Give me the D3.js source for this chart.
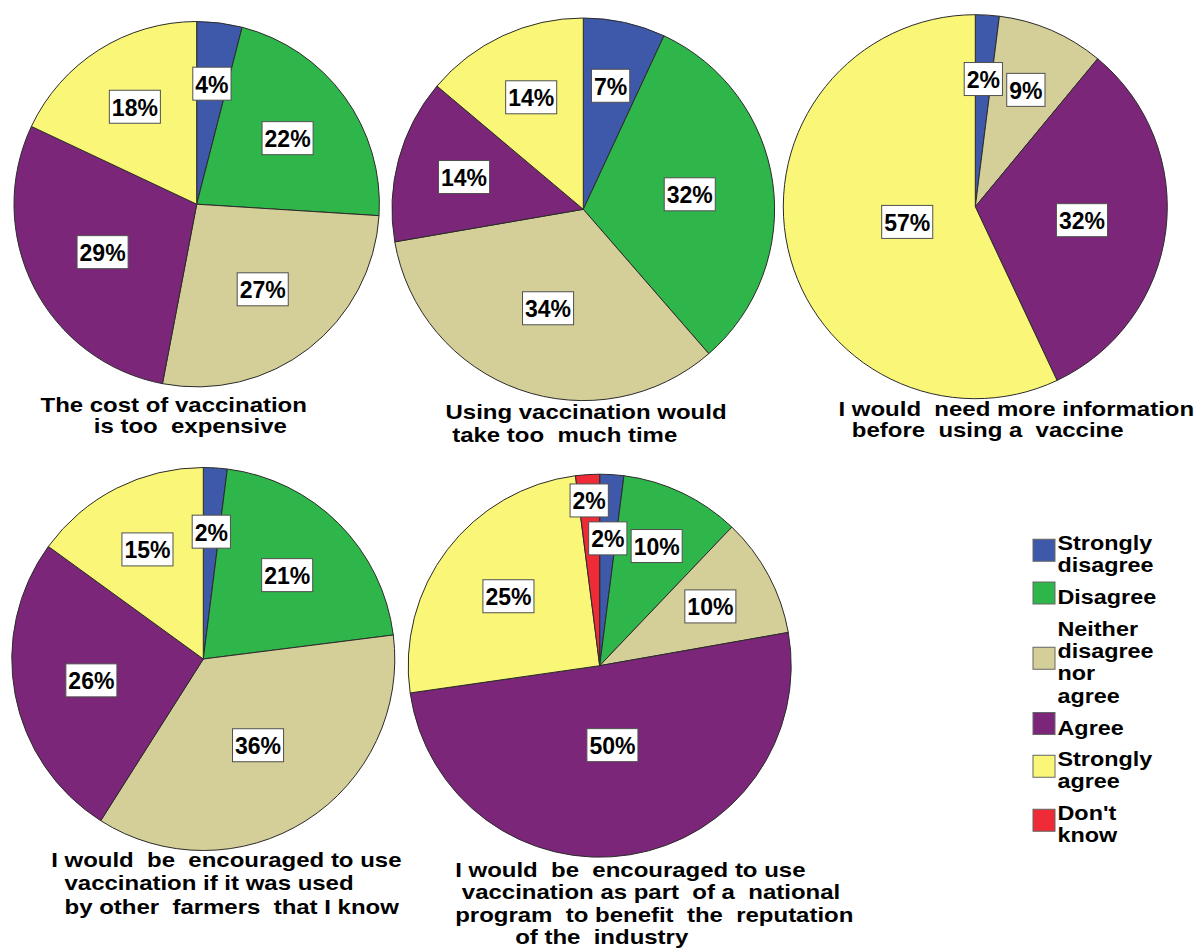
<!DOCTYPE html>
<html>
<head>
<meta charset="utf-8">
<script src="https://cdn.jsdelivr.net/npm/d3@7"></script>
<style>
  html, body { margin: 0; padding: 0; background: #ffffff; }
  svg { display: block; }
  text { font-family: "Liberation Sans", Arial, Helvetica, sans-serif; font-weight: bold; fill: #000; }
</style>
</head>
<body>
<svg id="chart" width="1204" height="948"></svg>
<script>
// Response categories (slice order, clockwise from 12 o'clock)
const categories = ["Strongly disagree", "Disagree", "Neither disagree nor agree", "Agree", "Strongly agree", "Don't know"];
const categoryColors = ["#3e58aa", "#2fb64a", "#d4ce98", "#7c267a", "#faf778", "#ee2b36"];
const legendLines = [["Strongly", "disagree"], ["Disagree"], ["Neither", "disagree", "nor", "agree"], ["Agree"], ["Strongly", "agree"], ["Don't", "know"]];

// Percentages per statement, in category order
const costValues     = [4, 22, 27, 29, 18, 0];
const timeValues     = [7, 32, 34, 14, 14, 0];
const infoValues     = [2, 0, 9, 32, 57, 0];
const farmersValues  = [2, 21, 36, 26, 15, 0];
const nationalValues = [2, 10, 10, 50, 25, 2];

// Statement titles (one string per printed line)
const costTitle     = ["The cost of vaccination", "        is too  expensive"];
const timeTitle     = ["Using vaccination would", " take too  much time"];
const infoTitle     = ["I would  need more information", "  before  using a  vaccine"];
const farmersTitle  = ["I would  be  encouraged to use", "  vaccination if it was used", "  by other  farmers  that I know"];
const nationalTitle = ["I would  be  encouraged to use", " vaccination as part  of a  national", "program  to benefit  the  reputation", "         of the  industry"];

// Panel layout: pie centre, radius, title anchor and line spacing
const panels = [
  { values: costValues,     title: costTitle,     cx: 196.7, cy: 204.2, r: 182.7, tx: 40.5,  ty: 411.7, lh: 21.7 },
  { values: timeValues,     title: timeTitle,     cx: 583.3, cy: 209.3, r: 191.3, tx: 445.5, ty: 419,   lh: 22.7 },
  { values: infoValues,     title: infoTitle,     cx: 975.3, cy: 206.7, r: 192,   tx: 838.5, ty: 416,   lh: 20.7 },
  { values: farmersValues,  title: farmersTitle,  cx: 203.3, cy: 659,   r: 191.5, tx: 51.2,  ty: 866.7, lh: 23.7 },
  { values: nationalValues, title: nationalTitle, cx: 599.7, cy: 665.7, r: 191.5, tx: 455.2, ty: 876.7, lh: 22.6 }
];

// Wide bold lettering used for titles and legend
const titleSize = 20.5, titleStretch = 1.17;
const legendSize = 20.5, legendStretch = 1.14;

const svg = d3.select("#chart");
const color = d3.scaleOrdinal().domain(categories).range(categoryColors);
const pie = d3.pie().sort(null).value(d => d.value);

panels.forEach(p => {
  const data = categories.map((c, i) => ({ category: c, value: p.values[i], index: i }))
    .filter(d => d.value > 0);
  const arcs = pie(data);
  const arc = d3.arc().innerRadius(0).outerRadius(p.r);
  const g = svg.append("g").attr("transform", `translate(${p.cx},${p.cy})`);

  g.selectAll("path.slice").data(arcs).join("path")
    .attr("class", "slice")
    .attr("d", arc)
    .attr("fill", d => color(d.data.category))
    .attr("stroke", "#2b2b2b")
    .attr("stroke-width", 1)
    .attr("stroke-linejoin", "round");

  // Label anchors at each sector's centroid
  const boxes = arcs.map(a => {
    const theta = a.endAngle - a.startAngle;
    const mid = (a.startAngle + a.endAngle) / 2;
    const dist = (2 * p.r * Math.sin(theta / 2)) / (1.5 * theta);
    return { a, mid, dist, label: a.data.value + "%" };
  });

  const lg = g.append("g");
  boxes.forEach(b => {
    b.group = lg.append("g");
    b.rect = b.group.append("rect").attr("fill", "#ffffff").attr("stroke", "#505050").attr("stroke-width", 1);
    b.text = b.group.append("text")
      .attr("text-anchor", "middle")
      .attr("dominant-baseline", "central")
      .attr("y", 1)
      .style("font-size", "23px")
      .text(b.label);
    b.w = b.text.node().getComputedTextLength() + 5;
    b.h = 33;
  });

  // Push a label outward along its radius while it overlaps an earlier one
  const margin = 4;
  const placed = [];
  boxes.forEach(b => {
    const pos = () => [Math.sin(b.mid) * b.dist, -Math.cos(b.mid) * b.dist];
    const hits = () => {
      const [x, y] = pos();
      return placed.some(o => {
        const [ox, oy] = [Math.sin(o.mid) * o.dist, -Math.cos(o.mid) * o.dist];
        return Math.abs(x - ox) < (b.w + o.w) / 2 + margin && Math.abs(y - oy) < (b.h + o.h) / 2 + margin;
      });
    };
    let guard = 0;
    while (hits() && guard++ < 200) b.dist += 1;
    placed.push(b);
    const [x, y] = pos();
    b.group.attr("transform", `translate(${x},${y})`);
    b.rect.attr("x", -b.w / 2).attr("y", -b.h / 2).attr("width", b.w).attr("height", b.h);
  });

  // Statement title under the pie
  const t = svg.append("text")
    .attr("transform", `translate(${p.tx},${p.ty}) scale(${titleStretch},1)`)
    .attr("xml:space", "preserve")
    .style("white-space", "pre")
    .style("font-size", titleSize + "px");
  p.title.forEach((line, i) => {
    t.append("tspan").attr("x", 0).attr("y", i * p.lh).text(line);
  });
});

// Legend
const legend = svg.append("g");
const lgX = 1033, lgText = 1057.5, lineH = 22.5, itemGap = 9, swatch = 22;
let baseline = 550;
categories.forEach((c, i) => {
  const lines = legendLines[i];
  const first = baseline, last = baseline + (lines.length - 1) * lineH;
  const mid = (first + last) / 2 - 11;
  legend.append("rect")
    .attr("x", lgX).attr("y", mid - swatch / 2)
    .attr("width", swatch).attr("height", swatch)
    .attr("fill", color(c)).attr("stroke", "#666666").attr("stroke-width", 1);
  const tx = legend.append("text")
    .attr("transform", `translate(${lgText},${first}) scale(${legendStretch},1)`)
    .style("font-size", legendSize + "px");
  lines.forEach((l, j) => {
    tx.append("tspan").attr("x", 0).attr("y", j * lineH).text(l);
  });
  baseline = last + lineH + itemGap;
});
</script>
</body>
</html>
